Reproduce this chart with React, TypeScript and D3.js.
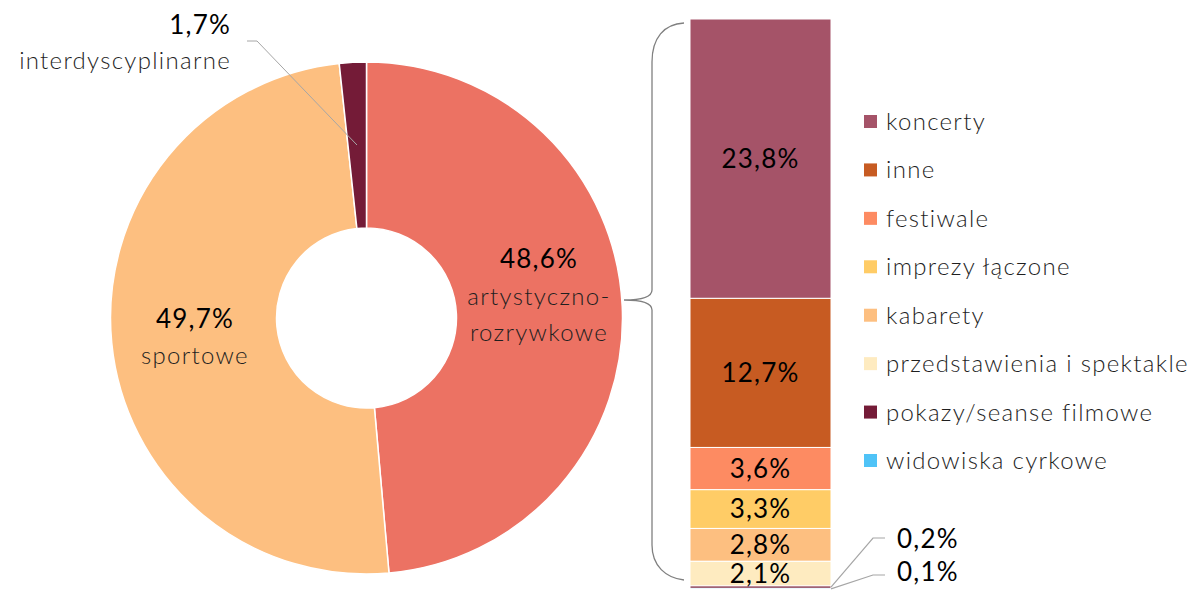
import React from "react";
import * as d3 from "d3";

const pieCategories = ["artystyczno-rozrywkowe", "sportowe", "interdyscyplinarne"];
const pieValues = [48.6, 49.7, 1.7];
const pieColors = ["#EC7263", "#FDBF80", "#741B37"];

const barCategories = [
  "koncerty",
  "inne",
  "festiwale",
  "imprezy łączone",
  "kabarety",
  "przedstawienia i spektakle",
  "pokazy/seanse filmowe",
  "widowiska cyrkowe",
];
const barValues = [23.8, 12.7, 3.6, 3.3, 2.8, 2.1, 0.2, 0.1];
const barColors = ["#A55368", "#C75B22", "#FD8B62", "#FFCC66", "#FDBF80", "#FEEBC0", "#741B37", "#4FC3F7"];

const fmt = (v: number) => v.toFixed(1).replace(".", ",") + "%";
const FONT = "Lato, 'Open Sans', sans-serif";

export default function App() {
  const W = 1194, H = 590;
  const cx = 366.5, cy = 318, R = 256, r = 90;

  const pie = d3.pie<number>().sort(null).value((d) => d)(pieValues);
  const arc = d3.arc<d3.PieArcDatum<number>>().innerRadius(r).outerRadius(R);

  const total = d3.sum(barValues);
  const barX0 = 690, barX1 = 831, barTop = 19, barBottom = 589.5;
  const y = d3.scaleLinear().domain([0, total]).range([barTop, barBottom]);
  const cum: number[] = [];
  barValues.reduce((acc, v) => { cum.push(acc); return acc + v; }, 0);

  const legendY = d3.scalePoint<string>().domain(barCategories).range([122, 461]);

  const tipX = 624, tipY = 300, bx = 652;
  const brace = `M684,23 C664,24 652,38 ${bx},62 L${bx},${tipY - 10} C${bx},${tipY - 3} 640,${tipY} ${tipX},${tipY} C640,${tipY} ${bx},${tipY + 3} ${bx},${tipY + 10} L${bx},545 C${bx},566 666,578 684,580`;

  const barTextLabels = barValues.map((v, i) => ({ v, i })).filter((d) => d.v >= 1);

  const pctStyle = { fontSize: 26, fontWeight: 400, letterSpacing: 1.2, fill: "#000" } as const;
  const catStyle = { fontSize: 24, fontWeight: 300, letterSpacing: 1.3, fill: "#1F1F1F" } as const;

  return (
    <svg width={W} height={H} style={{ position: "absolute", left: 0, top: 0 }} fontFamily={FONT}>
      <rect width={W} height={H} fill="#fff" />
      <g transform={`translate(${cx},${cy})`}>
        {pie.map((p, i) => (
          <path key={i} d={arc(p) || ""} fill={pieColors[i]} stroke="#fff" strokeWidth={1.5} />
        ))}
      </g>
      <g textAnchor="middle">
        <text x={539} y={268} {...pctStyle}>{fmt(pieValues[0])}</text>
        <text x={539} y={305} {...catStyle}>artystyczno-</text>
        <text x={539} y={341} {...catStyle}>rozrywkowe</text>
        <text x={195} y={328} {...pctStyle}>{fmt(pieValues[1])}</text>
        <text x={195} y={364} {...catStyle}>sportowe</text>
        <text x={231} y={34} textAnchor="end" {...pctStyle}>{fmt(pieValues[2])}</text>
        <text x={231} y={69} textAnchor="end" {...catStyle}>interdyscyplinarne</text>
      </g>
      <polyline points="247,41 257,41 357,145" fill="none" stroke="#A6A6A6" strokeWidth={1} />

      <path d={brace} fill="none" stroke="#808080" strokeWidth={1.3} />

      {barValues.map((v, i) => (
        <rect key={i} x={barX0} y={y(cum[i])} width={barX1 - barX0} height={y(cum[i] + v) - y(cum[i])}
          fill={barColors[i]} stroke="#fff" strokeWidth={1} />
      ))}
      <g textAnchor="middle">
        {barTextLabels.map(({ v, i }) => (
          <text key={i} x={(barX0 + barX1) / 2} y={(y(cum[i]) + y(cum[i] + v)) / 2 + 9} {...pctStyle}>{fmt(v)}</text>
        ))}
      </g>
      <polyline points={`${barX1},${y(cum[6] + 0.1)} 873,538 885,538`} fill="none" stroke="#A6A6A6" strokeWidth={1.2} />
      <polyline points={`${barX1},${y(cum[7] + 0.05)} 873,575 885,575`} fill="none" stroke="#A6A6A6" strokeWidth={1.2} />
      <g>
        <text x={897} y={548} {...pctStyle}>{fmt(barValues[6])}</text>
        <text x={897} y={581} {...pctStyle}>{fmt(barValues[7])}</text>
      </g>

      {barCategories.map((c, i) => (
        <g key={c} transform={`translate(864,${legendY(c)})`}>
          <rect x={0} y={-7} width={13} height={13} fill={barColors[i]} />
          <text x={22} y={8} {...catStyle}>{c}</text>
        </g>
      ))}
    </svg>
  );
}
